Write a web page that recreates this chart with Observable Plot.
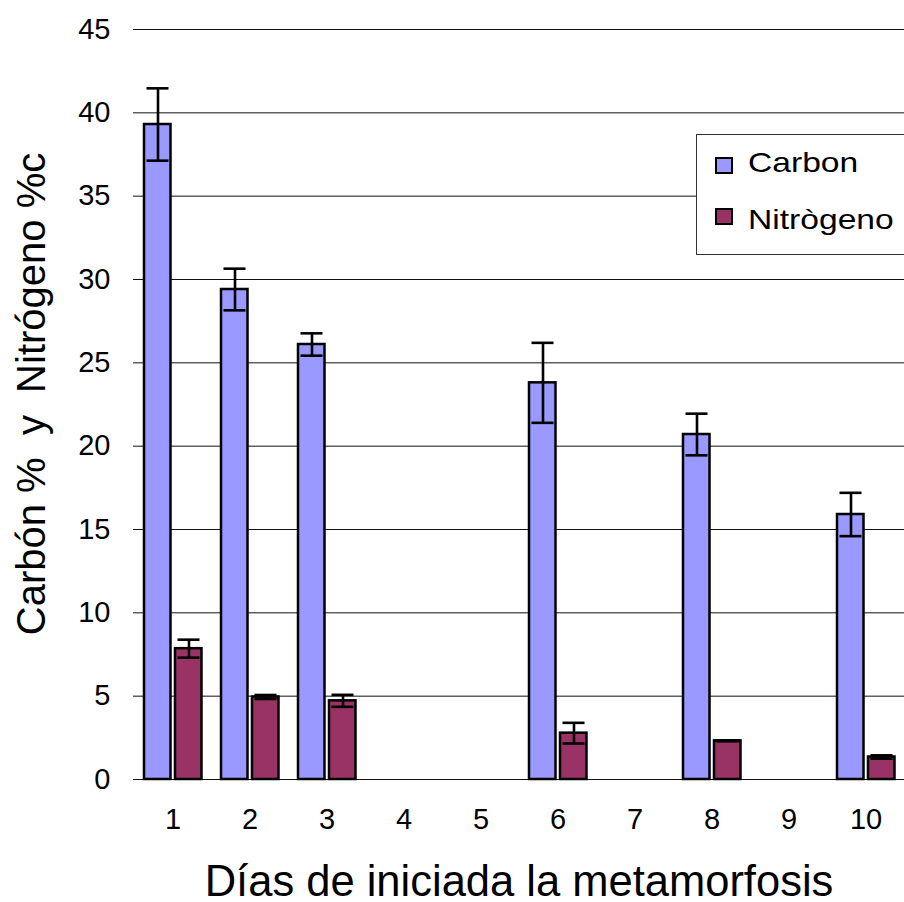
<!DOCTYPE html>
<html>
<head>
<meta charset="utf-8">
<script src="https://cdn.jsdelivr.net/npm/d3@7"></script>
<script src="https://cdn.jsdelivr.net/npm/@observablehq/plot@0.6"></script>
<style>
  html, body { margin: 0; padding: 0; background: #fff; overflow: hidden; }
  #wrap { position: relative; width: 904px; height: 902px; overflow: hidden; font-family: "Liberation Sans", Arial, sans-serif; }
  #legend {
    position: absolute; left: 696px; top: 134px; width: 300px; height: 121px;
    border: 1px solid #333; background: #fff; box-sizing: border-box;
  }
  .sw { position: absolute; left: 18px; width: 14px; height: 13px; border: 2px solid #000; }
  .lab { position: absolute; left: 51px; font-size: 28px; line-height: 28px; color: #000; white-space: nowrap;
         transform: scaleX(1.2); transform-origin: 0 0; }
</style>
</head>
<body>
<div id="wrap">
  <div id="chart"></div>
  <div id="legend">
    <span class="sw" style="top: 22px; background:#9999FF"></span>
    <span class="lab" style="top: 14px;">Carbon</span>
    <span class="sw" style="top: 73px; background:#993366"></span>
    <span class="lab" style="top: 71px;">Nitrògeno</span>
  </div>
</div>
<script>
// Days after the start of metamorphosis shown on the axis, and the sampled days
const dayTicks = [1, 2, 3, 4, 5, 6, 7, 8, 9, 10];
const days = [1, 2, 3, 6, 8, 10];

// Carbon and nitrogen content (%) with their error (±)
const carbon = [39.3, 29.4, 26.1, 23.8, 20.7, 15.9];
const carbonErr = [2.17, 1.25, 0.67, 2.4, 1.25, 1.3];
const nitrogen = [7.85, 4.95, 4.72, 2.78, 2.32, 1.35];
const nitrogenErr = [0.54, 0.12, 0.36, 0.62, 0.03, 0.1];

const yTicks = [0, 5, 10, 15, 20, 25, 30, 35, 40, 45];

const carbonRows = days.map((d, i) => ({day: d, value: carbon[i], lo: carbon[i] - carbonErr[i], hi: carbon[i] + carbonErr[i]}));
const nitrogenRows = days.map((d, i) => ({day: d, value: nitrogen[i], lo: nitrogen[i] - nitrogenErr[i], hi: nitrogen[i] + nitrogenErr[i]}));

const errStyle = {stroke: "#000", strokeWidth: 2.6};

const chart = Plot.plot({
  width: 904,
  height: 902,
  marginLeft: 133,
  marginRight: 0,
  marginTop: 29,
  marginBottom: 123,
  style: {fontFamily: "Liberation Sans, Arial, sans-serif", color: "#000", background: "#fff"},
  x: {type: "band", domain: dayTicks, padding: 0},
  y: {domain: [0, 45]},
  marks: [
    Plot.ruleY(yTicks, {stroke: "#111", strokeWidth: 1}),
    // Carbon bars (left half of each day)
    Plot.barY(carbonRows, {x: "day", y: "value", fill: "#9999FF", stroke: "#000", strokeWidth: 2.5, insetLeft: 10, insetRight: 40.5}),
    // Nitrogen bars (right half of each day)
    Plot.barY(nitrogenRows, {x: "day", y: "value", fill: "#993366", stroke: "#000", strokeWidth: 2.5, insetLeft: 41, insetRight: 9.5}),
    // Error bars
    Plot.ruleX(carbonRows, {x: "day", y1: "lo", y2: "hi", dx: -15, ...errStyle}),
    Plot.tickY(carbonRows, {x: "day", y: "lo", insetLeft: 12.5, insetRight: 42.5, ...errStyle}),
    Plot.tickY(carbonRows, {x: "day", y: "hi", insetLeft: 12.5, insetRight: 42.5, ...errStyle}),
    Plot.ruleX(nitrogenRows, {x: "day", y1: "lo", y2: "hi", dx: 16, ...errStyle}),
    Plot.tickY(nitrogenRows, {x: "day", y: "lo", insetLeft: 43.5, insetRight: 11.5, ...errStyle}),
    Plot.tickY(nitrogenRows, {x: "day", y: "hi", insetLeft: 43.5, insetRight: 11.5, ...errStyle}),
    // Axes
    Plot.axisX({tickSize: 0, tickPadding: 29, fontSize: 29, label: null}),
    Plot.axisY(yTicks, {tickSize: 0, tickPadding: 23, fontSize: 29, label: null}),
    // Axis titles
    Plot.text(["Días de iniciada la metamorfosis"], {frameAnchor: "bottom", lineAnchor: "middle", textAnchor: "middle", dy: 103, fontSize: 43.5, fill: "#000"}),
    Plot.text(["Carbón %  y  Nitrógeno %c"], {frameAnchor: "left", lineAnchor: "middle", textAnchor: "middle", rotate: -90, dx: -101, dy: -10.5, fontSize: 40, fill: "#000"})
  ]
});

document.getElementById("chart").appendChild(chart);
</script>
</body>
</html>
